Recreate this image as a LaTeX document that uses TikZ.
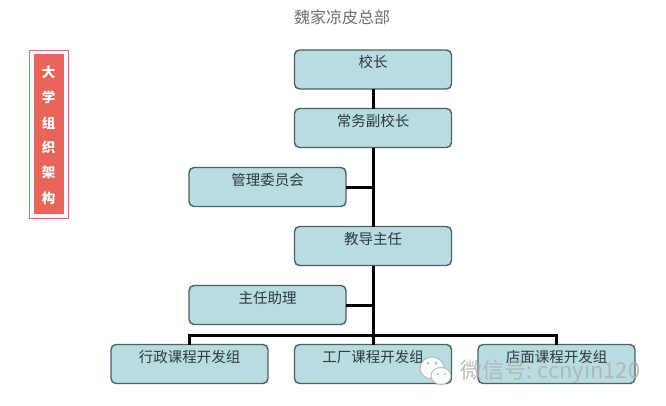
\documentclass[tikz,border=0pt]{standalone}
\usepackage{fontspec}
\setmainfont{Noto Sans CJK SC}
\usetikzlibrary{calc}
\definecolor{boxfill}{HTML}{B7DDE0}
\definecolor{boxline}{HTML}{4A6264}
\definecolor{tagfill}{HTML}{E9655A}
\definecolor{tagline}{HTML}{D9706A}
\definecolor{titlegray}{HTML}{707070}
\definecolor{boxtext}{HTML}{2F3A3C}
\tikzset{
  orgbox/.style={draw=boxline,fill=boxfill,line width=1.4pt,rounded corners=5pt,
    minimum width=157pt,minimum height=39pt,inner sep=0pt,outer sep=0pt,
    text=boxtext,font=\fontsize{14.5pt}{16pt}\selectfont,text height=10pt,text depth=14pt},
  conn/.style={draw=black,line width=3pt},
  tagchar/.style={text=white,inner sep=0pt,font=\fontsize{13.5pt}{15pt}\selectfont\bfseries},
  titletext/.style={text=titlegray,inner sep=0pt,font=\fontsize{16pt}{18pt}\selectfont},
  marktext/.style={text=gray!60,opacity=.85,inner sep=0pt,anchor=west,font=\fontsize{22pt}{24pt}\selectfont},
  bubble/.style={draw=gray!60,fill=white,line width=.9pt,opacity=.9},
  eye/.style={fill=gray!60,opacity=.9}
}
\begin{document}
\begin{tikzpicture}[x=1pt,y=-1pt]
\useasboundingbox (0,0) rectangle (666,405);
\fill[white] (0,0) rectangle (666,405);
\node[titletext] (title) at (342,17) {魏家凉皮总部};
% left tag
\node[draw=tagline,line width=1pt,minimum width=39pt,minimum height=168pt,inner sep=0pt] (tagframe) at (48.5,134) {};
\node[fill=tagfill,minimum width=30pt,minimum height=160pt,inner sep=0pt] (tagfill) at (tagframe.center) {};
\node[tagchar] (t1) at (48.5,72) {大};
\node[tagchar] (t2) at (48.5,97) {学};
\node[tagchar] (t3) at (48.5,123) {组};
\node[tagchar] (t4) at (48.5,147) {织};
\node[tagchar] (t5) at (48.5,172) {架};
\node[tagchar] (t6) at (48.5,198) {构};
% junction coordinates
\coordinate (j1) at (373,187);
\coordinate (j2) at (373,305);
\coordinate (j3) at (373,335);
% boxes
\node[orgbox] (xz) at (373,69.5) {校长};
\node[orgbox] (cw) at (373,128) {常务副校长};
\node[orgbox] (gl) at (267.5,187) {管理委员会};
\node[orgbox] (jd) at (373,246) {教导主任};
\node[orgbox] (zr) at (267.5,305) {主任助理};
\node[orgbox] (xzk) at (189.5,364) {行政课程开发组};
\node[orgbox] (gc) at (373,364) {工厂课程开发组};
\node[orgbox] (dm) at (556.5,364) {店面课程开发组};
\draw[conn] (xz.south) -- (cw.north);
\draw[conn] (cw.south) -- (jd.north);
\draw[conn] (gl.east) -- (j1);
\draw[conn] (jd.south) -- (gc.north);
\draw[conn] (zr.east) -- (j2);
\draw[conn] (xzk.north) |- (j3) -| (dm.north);
% watermark
\draw[bubble] (432,368) ellipse (12pt and 11pt);
\fill[eye] (428,363) circle (1.5pt) (436,363) circle (1.5pt);
\draw[bubble] (441,376) ellipse (10pt and 8.5pt);
\fill[eye] (438,374) circle (1.2pt) (445,374) circle (1.2pt);
\node[marktext] (mark) at (460,372) {微信号:\hspace{5pt}ccnyin120};
\end{tikzpicture}
\end{document}
